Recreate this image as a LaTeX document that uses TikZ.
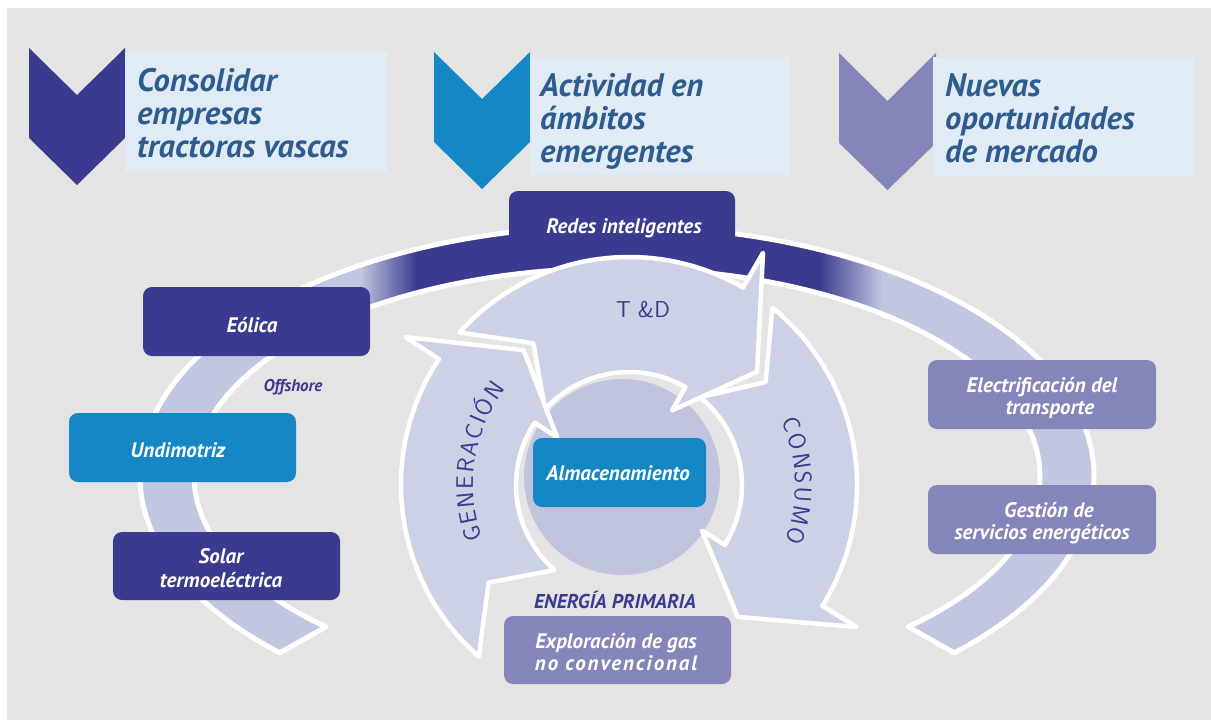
\documentclass[tikz,border=0pt]{standalone}
\usepackage{fontspec}
\setmainfont{PT Sans}
\usetikzlibrary{decorations.text}
\definecolor{bg}{HTML}{E4E4E4}
\definecolor{dkblue}{HTML}{3A3A8F}
\definecolor{tblue}{HTML}{1587C5}
\definecolor{pgrey}{HTML}{8486BA}
\definecolor{ringc}{HTML}{C1C6E1}
\definecolor{arrc}{HTML}{CDD1E6}
\definecolor{circc}{HTML}{C0C4DF}
\definecolor{hbox}{HTML}{E1EBF6}
\definecolor{htext}{HTML}{2F5C8E}
\tikzset{
  boxlbl/.style={text=white, font=\fontsize{21}{22}\selectfont\bfseries\itshape, align=center, inner sep=0pt, anchor=base},
  hdrtxt/.style={text=htext, font=\fontsize{32.5}{33}\selectfont\bfseries\itshape, align=left, inner sep=0pt, anchor=base west},
  rbox/.style={rounded corners=9pt, inner sep=0pt, minimum width=#1},
  cyc/.style={fill=arrc, draw=white, line width=4.5pt, line join=round},
  bluelbl/.style={text=dkblue, inner sep=0pt, anchor=base}
}
\newcommand\cyclearrow[2]{%
  \filldraw[cyc] (#1:228) arc[start angle=#1, end angle=#2, radius=228]
    -- (#2:268) -- ({#2+18.5}:171) -- (#2:86) -- (#2:113)
    arc[start angle=#2, end angle=#1, radius=113] -- ({#1+14}:171) -- cycle;}
\begin{document}
\begin{tikzpicture}[x=1pt,y=-1pt]
\useasboundingbox (0,0) rectangle (1211,720);
\fill[white] (0,0) rectangle (1211,720);
\fill[bg] (7,8) rectangle (1211,720);

% headers
\fill[dkblue] (29,48) -- (77,95) -- (125,48) -- (125,138) -- (77,185) -- (29,138) -- cycle;
\fill[tblue] (434,52) -- (482,99) -- (530,52) -- (530,142) -- (482,189) -- (434,142) -- cycle;
\fill[pgrey] (839,53) -- (887.5,101) -- (936,53) -- (936,143) -- (887.5,190) -- (839,143) -- cycle;
\fill[hbox] (125,52) rectangle (387,171);
\fill[hbox] (530,57) rectangle (790,175);
\fill[hbox] (933,57) rectangle (1195,176);
\node[hdrtxt] (h1) at (137,157) {Consolidar\\empresas\\tractoras vascas};
\node[hdrtxt] (h2) at (540,162) {Actividad en\\ámbitos\\emergentes};
\node[hdrtxt] (h3) at (945,162) {Nuevas\\oportunidades\\de mercado};

% outer ring
\fill[ringc] (279.7,652.8) arc[start angle=135, end angle=405, x radius=477, y radius=250]
  -- (908.2,626.9) arc[start angle=46.5, end angle=-226.5, x radius=423, y radius=208] -- cycle;
\begin{scope}
\clip (279.7,652.8) arc[start angle=135, end angle=405, x radius=477, y radius=250]
  -- (908.2,626.9) arc[start angle=46.5, end angle=-226.5, x radius=423, y radius=208] -- cycle;
\fill[dkblue] (416,150) rectangle (820,340);
\shade[left color=ringc, right color=dkblue] (360,150) rectangle (417,340);
\shade[left color=dkblue, right color=ringc] (819,150) rectangle (882,340);
\end{scope}
\draw[white, line width=5pt, line join=round] (279.7,652.8) arc[start angle=135, end angle=405, x radius=477, y radius=250]
  -- (908.2,626.9) arc[start angle=46.5, end angle=-226.5, x radius=423, y radius=208] -- cycle;

% Redes box
\node[rbox=226pt, fill=dkblue, minimum height=67pt] (redesbox) at (622,224.5) {};

% central circle
\fill[circc] (622,477) circle[radius=98];

% cycle arrows
\begin{scope}[shift={(629,485)}]
  \cyclearrow{-51}{32}
  \cyclearrow{-138}{-60}
  \cyclearrow{-228.8}{-146.5}
\end{scope}

% arc texts
\path[decorate, decoration={text along path, text align={fit to path},
  text={|\sffamily\fontsize{24}{24}\selectfont\color{dkblue}|GENERACIÓN}}]
  (629,485) ++(-200:156) arc[start angle=-200, end angle=-142, radius=156];
\path[decorate, decoration={text along path, text align={fit to path},
  text={|\sffamily\fontsize{24}{24}\selectfont\color{dkblue}|CONSUMO}}]
  (629,485) ++(-23:166) arc[start angle=-23, end angle=20, radius=166];
\node[font=\sffamily\fontsize{23}{23}\selectfont, text=dkblue, inner sep=0pt, anchor=base] (td) at (643,317) {T \&D};

% boxes
\node[rbox=227pt, fill=dkblue, minimum height=69pt] (eolbox) at (256.5,321.5) {};
\node[rbox=227pt, fill=tblue, minimum height=69pt] (undbox) at (182.5,447.5) {};
\node[rbox=227pt, fill=dkblue, minimum height=68pt] (solbox) at (226.5,566) {};
\node[rbox=173pt, fill=tblue, minimum height=69pt] (almbox) at (619.5,472.5) {};
\node[rbox=227pt, fill=pgrey, minimum height=68pt] (expbox) at (617.5,650) {};
\node[rbox=228pt, fill=pgrey, minimum height=69pt] (elebox) at (1042,394.5) {};
\node[rbox=228pt, fill=pgrey, minimum height=69pt] (gesbox) at (1042,519.5) {};

% labels
\node[boxlbl] (redes) at (624,233) {Redes inteligentes};
\node[boxlbl] (eol) at (252,332) {Eólica};
\node[boxlbl] (und) at (178,457) {Undimotriz};
\node[boxlbl, font=\fontsize{21}{24}\selectfont\bfseries\itshape] (sol) at (221,587) {Solar\\termoeléctrica};
\node[boxlbl] (alm) at (618,480) {Almacenamiento};
\node[boxlbl] (exp) at (616,670) {Exploración de gas\\{\addfontfeature{LetterSpace=9}no convencional}};
\node[boxlbl] (ele) at (1042,414) {Electrificación del\\\hspace*{16pt}transporte};
\node[boxlbl] (ges) at (1042,539) {\hspace*{14pt}Gestión de\\servicios energéticos};
\node[bluelbl, font=\fontsize{17}{18}\selectfont\bfseries\itshape] (off) at (293,391) {Offshore};
\node[bluelbl, font=\fontsize{20}{22}\selectfont\bfseries\itshape] (ep) at (615,608) {ENERGÍA PRIMARIA};
\end{tikzpicture}
\end{document}
